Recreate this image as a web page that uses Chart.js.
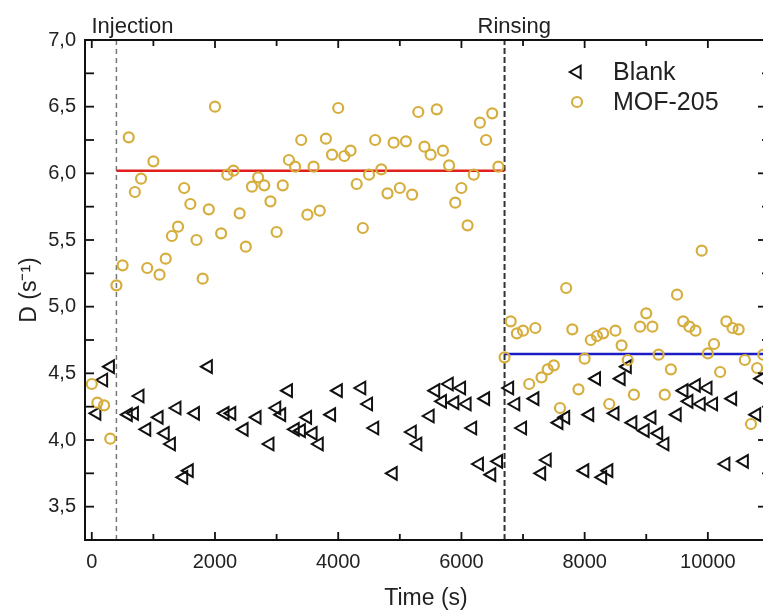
<!DOCTYPE html>
<html><head><meta charset="utf-8">
<script src="https://cdn.jsdelivr.net/npm/chart.js@4"></script>
<style>
html,body{margin:0;padding:0;background:#fff;overflow:hidden;width:763px;height:612px;}
#wrap{position:relative;width:790px;height:612px;}
</style></head><body>
<div id="wrap"><canvas id="c" width="790" height="612"></canvas></div>
<script>
// ---- data ----
const blankTime = [80,190,300,590,690,780,890,1090,1190,1290,1380,1490,1580,1680,1890,2160,2270,2470,2680,2890,3000,3080,3190,3300,3400,3500,3590,3690,3890,4000,4380,4490,4590,4890,5200,5290,5490,5580,5690,5800,5890,6000,6090,6180,6290,6390,6490,6600,6780,6880,6990,7190,7300,7390,7580,7690,8000,8080,8190,8290,8390,8490,8590,8690,8780,8980,9090,9200,9300,9500,9610,9690,9810,9890,10000,10090,10290,10400,10590,10790,10870];
const blankD = [4.20,4.45,4.55,4.19,4.20,4.33,4.08,4.17,4.05,3.97,4.24,3.72,3.77,4.20,4.55,4.20,4.20,4.08,4.17,3.97,4.24,4.19,4.37,4.08,4.07,4.17,4.05,3.97,4.19,4.37,4.39,4.27,4.09,3.75,4.06,3.97,4.18,4.37,4.29,4.42,4.28,4.39,4.27,4.09,3.82,4.31,3.74,3.84,4.39,4.27,4.09,4.31,3.75,3.85,4.13,4.17,3.77,4.19,4.46,3.72,3.77,4.20,4.46,4.55,4.13,4.07,4.17,4.05,3.97,4.19,4.37,4.29,4.41,4.27,4.39,4.27,3.82,4.31,3.84,4.19,4.46];
const mofTime = [0,90,200,300,400,500,600,700,800,900,1000,1100,1200,1300,1400,1500,1600,1700,1800,1900,2000,2100,2200,2300,2400,2500,2600,2700,2800,2900,3000,3100,3200,3300,3400,3500,3600,3700,3800,3900,4000,4100,4200,4300,4400,4500,4600,4700,4800,4900,5000,5100,5200,5300,5400,5500,5600,5700,5800,5900,6000,6100,6200,6300,6400,6500,6600,6700,6800,6900,7000,7100,7200,7300,7400,7500,7600,7700,7800,7900,8000,8100,8200,8300,8400,8500,8600,8700,8800,8900,9000,9100,9200,9300,9400,9500,9600,9700,9800,9900,10000,10100,10200,10300,10400,10500,10600,10700,10800,10900];
const mofD = [4.42,4.28,4.26,4.01,5.16,5.31,6.27,5.86,5.96,5.29,6.09,5.24,5.36,5.53,5.60,5.89,5.77,5.50,5.21,5.73,6.50,5.55,5.99,6.02,5.70,5.45,5.90,5.97,5.91,5.79,5.56,5.91,6.10,6.05,6.25,5.69,6.05,5.72,6.26,6.14,6.49,6.13,6.17,5.92,5.59,5.99,6.25,6.03,5.85,6.23,5.89,6.24,5.84,6.46,6.20,6.14,6.48,6.17,6.06,5.78,5.89,5.61,5.99,6.38,6.25,6.45,6.05,4.62,4.89,4.80,4.82,4.42,4.84,4.47,4.53,4.56,4.24,5.14,4.83,4.38,4.61,4.75,4.78,4.80,4.27,4.82,4.71,4.60,4.34,4.85,4.95,4.85,4.64,4.34,4.53,5.09,4.89,4.85,4.82,5.42,4.65,4.72,4.51,4.89,4.84,4.83,4.60,4.12,4.54,4.64];
const injectionFitTime = [400, 6700];
const injectionFitD = [6.02, 6.02];
const rinsingFitTime = [6700, 11000];
const rinsingFitD = [4.645, 4.645];
const eventTimes = [400, 6700];
const eventLabels = ['Injection', 'Rinsing'];
const seriesLabels = ['Blank', 'MOF-205'];
const xTicks = [0, 2000, 4000, 6000, 8000, 10000];
const xMinorTicks = [1000, 3000, 5000, 7000, 9000];
const yTicks = [3.5, 4.0, 4.5, 5.0, 5.5, 6.0, 6.5, 7.0];
const yMinorTicks = [3.75, 4.25, 4.75, 5.25, 5.75, 6.25, 6.75];
const xRange = [-110, 10960];
const yRange = [3.25, 7.0];

// ---- build ----
const FONT = '"Liberation Sans", Arial, Helvetica, sans-serif';
const MOF_COLOR = '#d6ae3e';
const pts = (xs, ys) => xs.map((v, i) => ({x: v, y: ys[i]}));
const vline = t => [{x: t, y: yRange[0]}, {x: t, y: yRange[1]}];

const datasets = [
  {label: seriesLabels[1], data: pts(mofTime, mofD), pointStyle: 'circle', pointRadius: 5,
   borderWidth: 2.2, borderColor: MOF_COLOR, backgroundColor: 'rgba(0,0,0,0)', showLine: false},
  {label: seriesLabels[0], data: pts(blankTime, blankD), pointStyle: 'triangle', rotation: -90, pointRadius: 7.3,
   borderWidth: 2, borderColor: '#111', backgroundColor: 'rgba(0,0,0,0)', showLine: false},
  {label: 'fit1', data: pts(injectionFitTime, injectionFitD), showLine: true, pointRadius: 0,
   borderColor: '#e0201c', borderWidth: 2.5},
  {label: 'fit2', data: pts(rinsingFitTime, rinsingFitD), showLine: true, pointRadius: 0,
   borderColor: '#1c1cc4', borderWidth: 2.5},
  {label: 'ev1', data: vline(eventTimes[0]), showLine: true, pointRadius: 0,
   borderColor: '#777', borderWidth: 1.5, borderDash: [5, 4]},
  {label: 'ev2', data: vline(eventTimes[1]), showLine: true, pointRadius: 0,
   borderColor: '#333', borderWidth: 2, borderDash: [6, 3]}
];

const framePlugin = {
  id: 'frame',
  afterDatasetsDraw(chart) {
    const {ctx, chartArea: a, scales: {x, y}} = chart;
    ctx.save();
    ctx.strokeStyle = '#111';
    ctx.lineWidth = 2;
    ctx.strokeRect(a.left, a.top, a.right - a.left, a.bottom - a.top);
    ctx.lineWidth = 1.8;
    const seg = (x1, y1, x2, y2) => { ctx.beginPath(); ctx.moveTo(x1, y1); ctx.lineTo(x2, y2); ctx.stroke(); };
    xTicks.forEach(v => { const p = x.getPixelForValue(v); seg(p, a.bottom, p, a.bottom - 8); seg(p, a.top, p, a.top + 8); });
    xMinorTicks.forEach(v => { const p = x.getPixelForValue(v); seg(p, a.bottom, p, a.bottom - 6); seg(p, a.top, p, a.top + 6); });
    yTicks.forEach(v => { const p = y.getPixelForValue(v); seg(a.left, p, a.left + 9, p); seg(a.right, p, a.right - 9, p); });
    yMinorTicks.forEach(v => { const p = y.getPixelForValue(v); seg(a.left, p, a.left + 9, p); seg(a.right, p, a.right - 5, p); });

    // event labels
    ctx.fillStyle = '#222';
    ctx.font = '22px ' + FONT;
    ctx.textAlign = 'left';
    ctx.textBaseline = 'alphabetic';
    const dx = [-25, -27];
    eventLabels.forEach((t, i) => {
      const p = x.getPixelForValue(eventTimes[i]);
      ctx.fillText(t, p + dx[i], 33);
    });

    // legend
    const lx = 577, ly = [72, 102];
    ctx.font = '25px ' + FONT;
    ctx.textBaseline = 'middle';
    [1, 0].forEach((di, k) => {
      const ds = chart.data.datasets[di];
      const cy = ly[k];
      ctx.strokeStyle = ds.borderColor;
      ctx.lineWidth = ds.borderWidth;
      ctx.beginPath();
      if (ds.pointStyle === 'triangle') {
        const r = ds.pointRadius;
        let rad = ds.rotation * Math.PI / 180;
        for (let j = 0; j < 3; j++) {
          const px = lx + Math.sin(rad) * r, py = cy - Math.cos(rad) * r;
          if (j === 0) ctx.moveTo(px, py); else ctx.lineTo(px, py);
          rad += 2 * Math.PI / 3;
        }
        ctx.closePath();
      } else {
        ctx.arc(lx, cy, ds.pointRadius, 0, Math.PI * 2);
      }
      ctx.stroke();
      ctx.fillStyle = '#222';
      ctx.fillText(ds.label, 613, cy + 1);
    });
    ctx.restore();
  }
};

new Chart(document.getElementById('c'), {
  type: 'scatter',
  data: {datasets},
  options: {
    responsive: false,
    animation: false,
    layout: {padding: {left: 0, right: 23, top: 40, bottom: 0}},
    plugins: {legend: {display: false}, tooltip: {enabled: false}},
    scales: {
      x: {
        type: 'linear', min: xRange[0], max: xRange[1],
        afterBuildTicks: s => { s.ticks = xTicks.map(v => ({value: v})); },
        afterFit: s => { s.height = 72; },
        grid: {display: false, drawTicks: false},
        border: {display: false},
        ticks: {font: {size: 20, family: FONT}, color: '#222', padding: 10, maxRotation: 0, autoSkip: false,
                callback: v => String(v)},
        title: {display: true, text: 'Time (s)', font: {size: 23, family: FONT}, color: '#222',
                padding: {top: 0, bottom: 0}}
      },
      y: {
        type: 'linear', min: yRange[0], max: yRange[1],
        afterBuildTicks: s => { s.ticks = yTicks.map(v => ({value: v})); },
        afterFit: s => { s.width = 85; },
        grid: {display: false, drawTicks: false},
        border: {display: false},
        ticks: {font: {size: 20, family: FONT}, color: '#222', padding: 9, autoSkip: false,
                callback: v => v.toFixed(1).replace('.', ',')},
        title: {display: true, text: 'D (s⁻¹)', font: {size: 23, family: FONT}, color: '#222',
                padding: {top: 16, bottom: 0}}
      }
    }
  },
  plugins: [framePlugin]
});
</script>
</body></html>
